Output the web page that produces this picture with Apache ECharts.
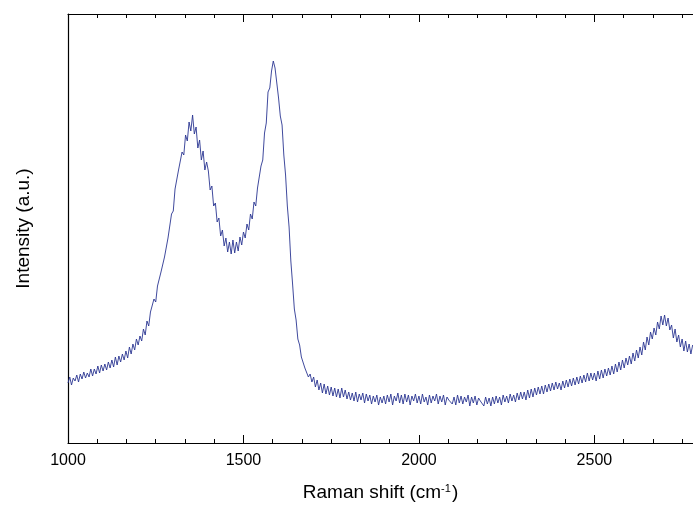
<!DOCTYPE html>
<html>
<head>
<meta charset="utf-8">
<script src="https://cdn.jsdelivr.net/npm/echarts@6/dist/echarts.min.js"></script>
<style>html,body{margin:0;padding:0;background:#fff;}#c{width:693px;height:507px;}</style>
</head>
<body>
<div id="c"></div>
<script>
// Raman shift axis: start and step of the sampled spectrum (cm^-1)
const shiftStart = 1000;
const shiftStep = 5;
// Intensity (a.u.), one block per 100 cm^-1
const int1000 = [60, 66, 58, 65, 62, 68, 61, 69, 64, 71, 65, 70, 66, 74, 67, 74, 69, 77, 70, 78];
const int1100 = [72, 79, 73, 81, 75, 83, 76, 86, 78, 87, 81, 89, 83, 92, 85, 96, 89, 99, 93, 104];
const int1200 = [98, 107, 102, 114, 108, 122, 117, 131, 129, 144, 141, 157, 156, 171, 169, 186, 185, 205, 207, 229];
const int1300 = [232, 254, 255, 273, 271, 291, 288, 308, 302, 321, 312, 328, 309, 316, 295, 303, 283, 292, 273, 281];
const int1400 = [272, 253, 257, 237, 240, 221, 225, 207, 213, 197, 205, 191, 201, 189, 203, 190, 201, 192, 206, 198];
const int1500 = [211, 205, 219, 213, 229, 224, 241, 237, 255, 256, 277, 283, 310, 320, 351, 355, 372, 382, 375, 360];
const int1600 = [345, 327, 318, 288, 268, 237, 216, 182, 159, 134, 123, 104, 98, 86, 86, 75, 76, 66, 69, 61];
const int1700 = [66, 56, 63, 53, 60, 50, 59, 49, 57, 48, 56, 47, 55, 46, 54, 45, 55, 46, 53, 44];
const int1800 = [51, 43, 50, 42, 51, 41, 49, 43, 50, 40, 49, 42, 48, 39, 47, 41, 48, 38, 46, 40];
const int1900 = [47, 39, 48, 41, 49, 38, 47, 42, 50, 40, 48, 39, 49, 41, 48, 38, 47, 42, 49, 40];
const int2000 = [47, 39, 49, 41, 46, 38, 48, 40, 47, 42, 49, 39, 47, 41, 48, 38, 46, 43, 45, 39];
const int2100 = [46, 38, 48, 40, 47, 39, 46, 41, 48, 37, 46, 40, 47, 38, 45, 42, 43, 37, 46, 39];
const int2200 = [45, 37, 46, 39, 47, 40, 46, 38, 48, 41, 47, 40, 49, 42, 48, 41, 50, 43, 51, 44];
const int2300 = [51, 43, 53, 45, 54, 46, 55, 48, 56, 49, 57, 49, 58, 51, 59, 52, 60, 53, 61, 54];
const int2400 = [60, 53, 62, 55, 63, 56, 64, 57, 65, 58, 66, 59, 67, 60, 68, 61, 70, 62, 70, 63];
const int2500 = [70, 62, 72, 64, 73, 65, 74, 67, 75, 68, 77, 69, 79, 71, 81, 73, 83, 75, 85, 78];
const int2600 = [87, 79, 90, 82, 93, 85, 96, 88, 101, 93, 106, 98, 111, 104, 115, 108, 121, 114, 127, 118];
const int2700 = [128, 117, 125, 113, 118, 105, 114, 101, 108, 96, 104, 92, 102, 91, 99, 89, 98];

// Axis settings
const xMin = 1000, xMax = 2781, xMajor = 500, xMinorCount = 6;
const yMin = 0, yMax = 429;
const xTitle = 'Raman shift (cm{sup|-1})';
const yTitle = 'Intensity (a.u.)';

const intensity = [].concat(int1000, int1100, int1200, int1300, int1400, int1500, int1600,
  int1700, int1800, int1900, int2000, int2100, int2200, int2300, int2400, int2500, int2600, int2700);
const data = intensity.map((v, i) => [shiftStart + i * shiftStep, v]);

const FONT = 'Liberation Sans, Arial, sans-serif';
const lineCol = '#000';
function xa(pos, interval, len, labels, line, extra) {
  return Object.assign({
    type: 'value', position: pos, min: xMin, max: xMax, interval: interval,
    axisLine: { show: line, onZero: false, lineStyle: { color: lineCol, width: 1.2 } },
    axisTick: { show: true, inside: true, length: len, lineStyle: { color: lineCol, width: 1 } },
    axisLabel: {
      show: labels, color: '#000', fontSize: 16, fontFamily: FONT, margin: 10,
      showMaxLabel: false,
      formatter: v => (Math.abs(v % xMajor) < 1e-6 ? String(v) : '')
    },
    splitLine: { show: false }
  }, extra || {});
}

const chart = echarts.init(document.getElementById('c'), null, { renderer: 'canvas' });
chart.setOption({
  animation: false,
  backgroundColor: '#fff',
  grid: { left: 68, right: 0, top: 14, bottom: 64, containLabel: false },
  xAxis: [
    xa('bottom', xMajor, 8, true, true, {
      name: xTitle, nameLocation: 'middle', nameGap: 40,
      nameTextStyle: {
        color: '#000', fontSize: 19, fontFamily: FONT,
        rich: { sup: { fontSize: 11, fontFamily: FONT, color: '#000', verticalAlign: 'top', padding: [0, 1, 0, 0] } }
      }
    }),
    xa('bottom', xMajor / xMinorCount, 4, false, false),
    xa('top', xMajor, 8, false, true),
    xa('top', xMajor / xMinorCount, 4, false, false)
  ],
  yAxis: {
    type: 'value', min: yMin, max: yMax, position: 'left',
    name: yTitle, nameLocation: 'middle', nameGap: 35, nameRotate: 90,
    nameTextStyle: { color: '#000', fontSize: 19, fontFamily: FONT },
    axisLine: { show: true, lineStyle: { color: lineCol, width: 1.2 } },
    axisTick: { show: false },
    axisLabel: { show: false },
    splitLine: { show: false }
  },
  series: [{
    type: 'line', xAxisIndex: 0, yAxisIndex: 0, data: data,
    showSymbol: false, symbol: 'none',
    lineStyle: { color: '#2a3592', width: 0.9 },
    emphasis: { disabled: true }
  }]
});
</script>
</body>
</html>
